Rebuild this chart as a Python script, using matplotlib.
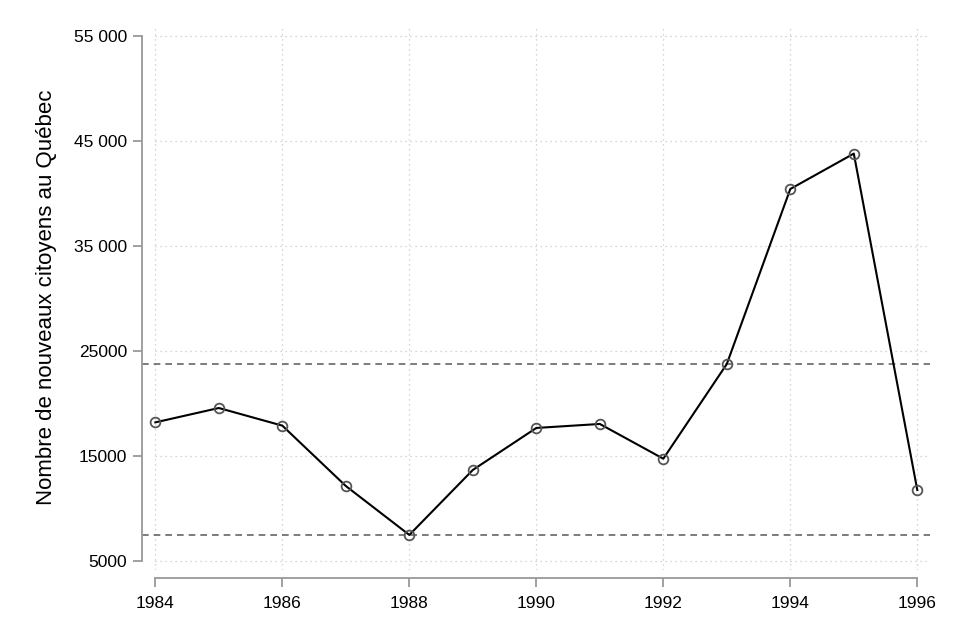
import matplotlib
matplotlib.use("Agg")
import matplotlib.pyplot as plt

years = [1984, 1985, 1986, 1987, 1988, 1989, 1990, 1991, 1992, 1993, 1994, 1995, 1996]
citoyens = [18200, 19570, 17890, 12140, 7480, 13670, 17670, 18050, 14740, 23760, 40430, 43800, 11760]
ref_lines = [23760, 7480]
y_ticks = [5000, 15000, 25000, 35000, 45000, 55000]
y_labels = ["5000", "15000", "25000", "35 000", "45 000", "55 000"]
x_ticks = [1984, 1986, 1988, 1990, 1992, 1994, 1996]
y_title = "Nombre de nouveaux citoyens au Québec"

plt.rcParams['font.family'] = ['Liberation Sans', 'DejaVu Sans']

fig = plt.figure(figsize=(9.54, 6.36), dpi=100)
ax = fig.add_axes([142/954, 1 - 570/636, (930-142)/954, (570-25)/636])

xmin, xmax = 1983.79, 1996.2
ax.set_xlim(xmin, xmax)
ax.set_ylim(4140, 56050)

# grid
for yt in y_ticks:
    ax.plot([1984, xmax], [yt, yt], color="#c8c8c8", lw=0.9, ls=(0, (1, 3)), zorder=1)
for xt in x_ticks:
    ax.axvline(xt, color="#c8c8c8", lw=0.9, ls=(0, (1, 3)), zorder=1)

for v in ref_lines:
    ax.axhline(v, color="#666666", lw=1.2, ls=(0, (4, 3)), zorder=2)

ax.plot(years, citoyens, color="black", lw=1.5, zorder=3,
        marker="o", markersize=7, markerfacecolor="none",
        markeredgecolor="#555555", markeredgewidth=1.3)

ax.set_yticks(y_ticks)
ax.set_yticklabels(y_labels)
ax.set_xticks(x_ticks)
ax.set_xticklabels([str(x) for x in x_ticks])

for s in ["top", "right"]:
    ax.spines[s].set_visible(False)
ax.spines["left"].set_color("#999999")
ax.spines["bottom"].set_color("#999999")
ax.spines["left"].set_linewidth(1.3)
ax.spines["bottom"].set_linewidth(1.3)
ax.spines["left"].set_bounds(5000, 55000)
ax.spines["bottom"].set_bounds(1984, 1996)
ax.spines["bottom"].set_position(("outward", 6))
ax.tick_params(axis="both", colors="#999999", labelcolor="black", length=6.5, width=1.3,
               labelsize=12.5)
ax.tick_params(axis="y", pad=4)
ax.tick_params(axis="x", pad=6)

ax.set_ylabel(y_title, fontsize=16, labelpad=12)

fig.savefig("out.png", dpi=100)
